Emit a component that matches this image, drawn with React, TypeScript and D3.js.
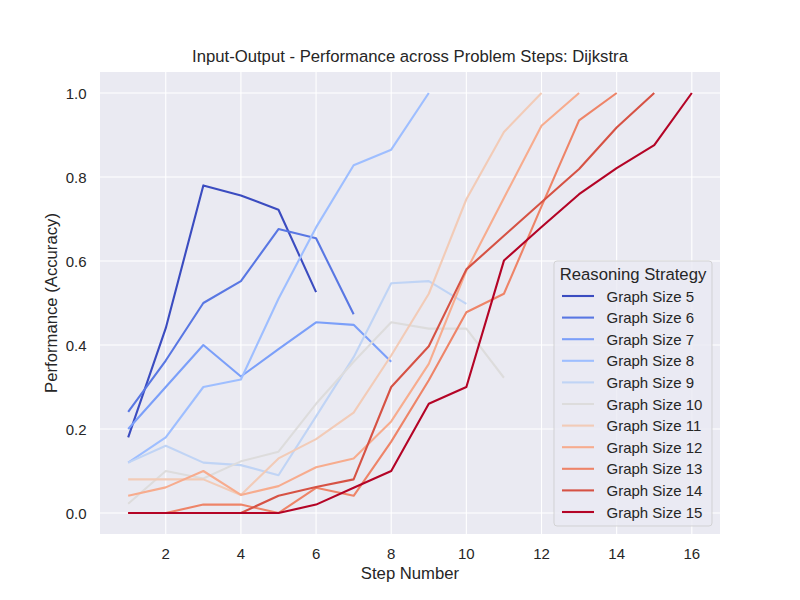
import React from "react";
import * as d3 from "d3";

const steps = [1, 2, 3, 4, 5, 6, 7, 8, 9, 10, 11, 12, 13, 14, 15, 16];
const graphSizes = [5, 6, 7, 8, 9, 10, 11, 12, 13, 14, 15];
const palette = [
  "#3b4cc0", "#5977e3", "#7b9ff9", "#9ebeff", "#c0d4f5", "#dddcdc",
  "#f2cbb7", "#f7ac8e", "#ee8468", "#d65244", "#b40426",
];

const size5 = [0.18, 0.44, 0.78, 0.756, 0.722, 0.526];
const size6 = [0.241, 0.363, 0.5, 0.552, 0.676, 0.654, 0.473];
const size7 = [0.2, 0.3, 0.4, 0.325, 0.39, 0.454, 0.448, 0.36];
const size8 = [0.12, 0.18, 0.3, 0.318, 0.51, 0.68, 0.828, 0.865, 1.0];
const size9 = [0.12, 0.16, 0.12, 0.114, 0.09, 0.23, 0.371, 0.547, 0.552, 0.498];
const size10 = [0.022, 0.1, 0.082, 0.123, 0.146, 0.26, 0.36, 0.454, 0.439, 0.439, 0.322];
const size11 = [0.08, 0.08, 0.08, 0.043, 0.13, 0.176, 0.239, 0.375, 0.522, 0.747, 0.907, 1.0];
const size12 = [0.041, 0.061, 0.1, 0.043, 0.064, 0.109, 0.13, 0.218, 0.355, 0.577, 0.75, 0.922, 1.0];
const size13 = [0.0, 0.0, 0.02, 0.02, 0.0, 0.06, 0.041, 0.17, 0.316, 0.478, 0.522, 0.73, 0.935, 1.0];
const size14 = [0.0, 0.0, 0.0, 0.0, 0.041, 0.062, 0.08, 0.3, 0.397, 0.58, 0.66, 0.74, 0.819, 0.918, 1.0];
const size15 = [0.0, 0.0, 0.0, 0.0, 0.0, 0.02, 0.06, 0.1, 0.26, 0.3, 0.601, 0.681, 0.759, 0.821, 0.876, 1.0];

const seriesValues = [size5, size6, size7, size8, size9, size10, size11, size12, size13, size14, size15];
const xTicks = [2, 4, 6, 8, 10, 12, 14, 16];
const yTicks = [0.0, 0.2, 0.4, 0.6, 0.8, 1.0];

const W = 800;
const H = 600;
const left = 100;
const right = 720;
const top = 72;
const bottom = 534;
const FONT = "'Liberation Sans', Arial, sans-serif";

export default function App() {
  const x = d3.scaleLinear().domain([0.25, 16.75]).range([left, right]);
  const y = d3.scaleLinear().domain([-0.05, 1.05]).range([bottom, top]);
  const line = d3
    .line<[number, number]>()
    .x((d) => x(d[0]))
    .y((d) => y(d[1]));

  const legX = 554;
  const legY = 261;
  const legW = 158;
  const legH = 265;

  return (
    <svg
      width={W}
      height={H}
      style={{ position: "absolute", left: 0, top: 0, background: "#fff" }}
      fontFamily={FONT}
    >
      <rect x={0} y={0} width={W} height={H} fill="#ffffff" />
      <rect x={left} y={top} width={right - left} height={bottom - top} fill="#eaeaf2" />
      {xTicks.map((t) => (
        <line key={"gx" + t} x1={x(t)} x2={x(t)} y1={top} y2={bottom} stroke="#ffffff" strokeWidth={1.1} />
      ))}
      {yTicks.map((t) => (
        <line key={"gy" + t} x1={left} x2={right} y1={y(t)} y2={y(t)} stroke="#ffffff" strokeWidth={1.1} />
      ))}
      {seriesValues.map((vals, i) => (
        <path
          key={"s" + i}
          d={line(vals.map((v, j) => [steps[j], v] as [number, number])) || ""}
          fill="none"
          stroke={palette[i]}
          strokeWidth={2.1}
          strokeLinejoin="round"
        />
      ))}
      {xTicks.map((t) => (
        <text key={"tx" + t} x={x(t)} y={558.5} fontSize={15} fill="#262626" textAnchor="middle">
          {t}
        </text>
      ))}
      {yTicks.map((t) => (
        <text key={"ty" + t} x={86.5} y={y(t) + 6} fontSize={15} fill="#262626" textAnchor="end">
          {t.toFixed(1)}
        </text>
      ))}
      <text x={(left + right) / 2} y={579} fontSize={16.7} fill="#262626" textAnchor="middle">
        Step Number
      </text>
      <text
        transform={`translate(57, ${(top + bottom) / 2}) rotate(-90)`}
        fontSize={16.7}
        fill="#262626"
        textAnchor="middle"
      >
        Performance (Accuracy)
      </text>
      <text x={(left + right) / 2} y={62} fontSize={16.7} fill="#262626" textAnchor="middle">
        Input-Output - Performance across Problem Steps: Dijkstra
      </text>
      <g>
        <rect
          x={legX}
          y={legY}
          width={legW}
          height={legH}
          rx={3}
          fill="#eaeaf2"
          fillOpacity={0.8}
          stroke="#cccccc"
          strokeOpacity={0.8}
          strokeWidth={1}
        />
        <text x={legX + legW / 2} y={280} fontSize={16.7} fill="#262626" textAnchor="middle">
          Reasoning Strategy
        </text>
        {graphSizes.map((g, i) => {
          const ly = 296 + i * 21.6;
          return (
            <g key={"l" + g}>
              <line x1={562} x2={594} y1={ly} y2={ly} stroke={palette[i]} strokeWidth={2.1} />
              <text x={606.5} y={ly + 5.5} fontSize={15} fill="#262626">
                {"Graph Size " + g}
              </text>
            </g>
          );
        })}
      </g>
    </svg>
  );
}
